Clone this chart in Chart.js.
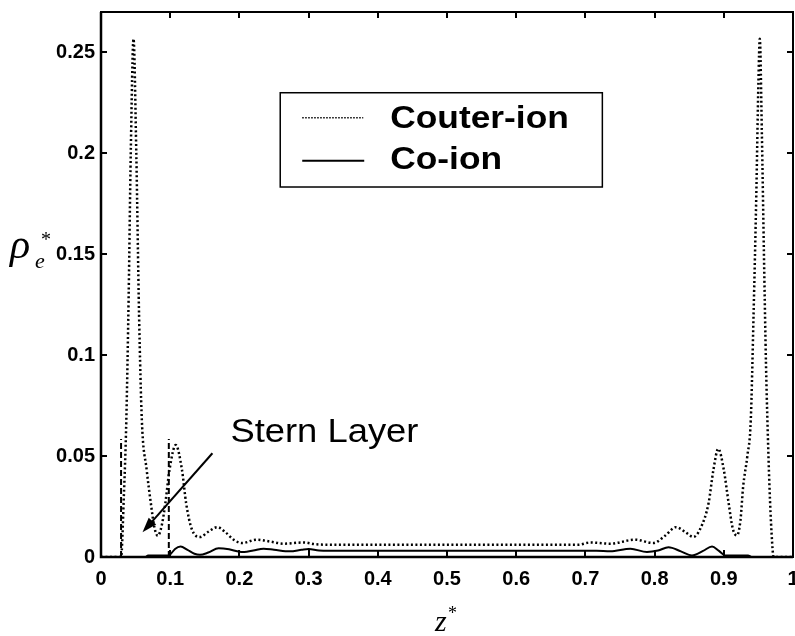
<!DOCTYPE html>
<html lang="en">
<head>
  <meta charset="UTF-8">
  <title>Charge density profile</title>
  <style>
    html, body {
      margin: 0;
      padding: 0;
      background: #fff;
    }
    canvas {
      display: block;
    }
  </style>
</head>
<body>
  <canvas id="densityChart" width="795" height="636"></canvas>

  <script src="https://cdn.jsdelivr.net/npm/chart.js"></script>
  <script>
    // counter-ion profile (dotted)
    const counterZ = [0, 0.029, 0.033, 0.0366, 0.040, 0.043, 0.047, 0.051, 0.055, 0.059,
      0.066, 0.072, 0.077, 0.082, 0.088, 0.093, 0.099, 0.108, 0.117, 0.123,
      0.131, 0.143, 0.155, 0.168, 0.18, 0.192, 0.204, 0.225, 0.245, 0.264,
      0.293, 0.31, 0.33, 0.69, 0.707, 0.736, 0.772, 0.798, 0.815, 0.831,
      0.845, 0.856, 0.866, 0.878, 0.885, 0.892, 0.900, 0.907, 0.913, 0.919,
      0.924, 0.928, 0.934, 0.939, 0.943, 0.947, 0.950, 0.952, 0.955, 0.958,
      0.961, 0.963, 0.966, 0.969, 0.972, 1];
    const counterRho = [0, 0, 0.03, 0.068, 0.13, 0.20, 0.2567, 0.20, 0.12, 0.068,
      0.0432, 0.0267, 0.015, 0.0105, 0.016, 0.0267, 0.0432, 0.0555, 0.0432, 0.0267,
      0.014, 0.0099, 0.0125, 0.0148, 0.0122, 0.0085, 0.0069, 0.0086, 0.0076, 0.0066,
      0.0072, 0.0063, 0.0061, 0.0061, 0.0072, 0.0066, 0.0086, 0.0069, 0.0105, 0.0148,
      0.0122, 0.0099, 0.014, 0.0267, 0.0432, 0.0536, 0.0432, 0.0267, 0.014, 0.0107,
      0.018, 0.035, 0.05, 0.068, 0.12, 0.18, 0.235, 0.2567, 0.21, 0.15,
      0.095, 0.068, 0.035, 0.012, 0, 0];

    // co-ion profile (solid)
    const coZ = [0, 0.064, 0.068, 0.097, 0.1, 0.107, 0.115, 0.125, 0.135, 0.143,
      0.155, 0.17, 0.185, 0.2, 0.207, 0.22, 0.235, 0.25, 0.273, 0.29,
      0.30, 0.315, 0.33, 0.716, 0.736, 0.765, 0.789, 0.805, 0.82, 0.838,
      0.854, 0.87, 0.883, 0.893, 0.902, 0.935, 0.94, 1];
    const coRho = [0, 0, 0.0007, 0.0007, 0.0012, 0.004, 0.0052, 0.0035, 0.0016, 0.0011,
      0.0022, 0.0043, 0.0038, 0.0026, 0.0025, 0.0032, 0.0041, 0.0036, 0.0028, 0.0036,
      0.004, 0.0032, 0.0031, 0.0031, 0.0028, 0.0041, 0.0025, 0.0032, 0.0048, 0.0028,
      0.0008, 0.003, 0.0052, 0.003, 0.0008, 0.0008, 0, 0];

    // Stern layer boundaries (dashed)
    const sternZ = [0.029, 0.098];
    const sternTop = 0.0585;

    const xTicks = [0, 0.1, 0.2, 0.3, 0.4, 0.5, 0.6, 0.7, 0.8, 0.9, 1];
    const yTicks = [0, 0.05, 0.1, 0.15, 0.2, 0.25];

    const legendLabels = ['Couter-ion', 'Co-ion'];
    const sternLabel = 'Stern Layer';

    const fmt = v => String(+Number(v).toFixed(2));
    const toPoints = (xs, ys) => xs.map((v, i) => ({ x: v, y: ys[i] }));

    function stretchText(ctx, text, x, y, sx) {
      ctx.save();
      ctx.translate(x, y);
      ctx.scale(sx, 1);
      ctx.fillText(text, 0, 0);
      ctx.restore();
    }

    const framePlugin = {
      id: 'frame',
      afterDraw(chart) {
        const { ctx, chartArea: a, scales: { x, y } } = chart;
        ctx.save();
        ctx.strokeStyle = '#000';
        ctx.fillStyle = '#000';
        ctx.lineWidth = 2;
        ctx.setLineDash([]);
        ctx.strokeRect(a.left, a.top, a.right - a.left, a.bottom - a.top);
        // left and bottom axes a bit heavier
        ctx.lineWidth = 2.5;
        ctx.beginPath();
        ctx.moveTo(a.left, a.top); ctx.lineTo(a.left, a.bottom); ctx.lineTo(a.right, a.bottom);
        ctx.stroke();

        // inward tick marks on all four sides
        ctx.lineWidth = 2;
        ctx.beginPath();
        xTicks.forEach(v => {
          const px = Math.round(x.getPixelForValue(v));
          ctx.moveTo(px, a.bottom); ctx.lineTo(px, a.bottom - 7);
          ctx.moveTo(px, a.top); ctx.lineTo(px, a.top + 6);
        });
        yTicks.forEach(v => {
          const py = Math.round(y.getPixelForValue(v));
          ctx.moveTo(a.left, py); ctx.lineTo(a.left + 6, py);
          ctx.moveTo(a.right, py); ctx.lineTo(a.right - 6, py);
        });
        ctx.stroke();

        // legend box
        const lx = x.getPixelForValue(0.259), rx = x.getPixelForValue(0.7245);
        const ty = y.getPixelForValue(0.230), by = y.getPixelForValue(0.1833);
        ctx.lineWidth = 1.5;
        ctx.strokeRect(lx, ty, rx - lx, by - ty);
        ctx.lineWidth = 1.5;
        ctx.setLineDash([1.5, 1.5]);
        ctx.beginPath();
        ctx.moveTo(lx + 22, ty + 25); ctx.lineTo(lx + 83, ty + 25);
        ctx.stroke();
        ctx.setLineDash([]);
        ctx.lineWidth = 2;
        ctx.beginPath();
        ctx.moveTo(lx + 22, ty + 68); ctx.lineTo(lx + 84, ty + 68);
        ctx.stroke();
        ctx.font = 'bold 31px "Liberation Sans", Arial, sans-serif';
        ctx.textBaseline = 'alphabetic';
        ctx.textAlign = 'left';
        stretchText(ctx, legendLabels[0], lx + 110, ty + 35, 1.14);
        stretchText(ctx, legendLabels[1], lx + 110, ty + 76, 1.14);

        // Stern layer annotation
        ctx.font = '34px "Liberation Sans", Arial, sans-serif';
        stretchText(ctx, sternLabel, x.getPixelForValue(0.187), y.getPixelForValue(0.0571), 1.07);
        const x1 = x.getPixelForValue(0.161), y1 = y.getPixelForValue(0.0514);
        const x2 = x.getPixelForValue(0.060), y2 = y.getPixelForValue(0.0122);
        const ang = Math.atan2(y2 - y1, x2 - x1);
        ctx.lineWidth = 2;
        ctx.beginPath();
        ctx.moveTo(x1, y1);
        ctx.lineTo(x2 - 10 * Math.cos(ang), y2 - 10 * Math.sin(ang));
        ctx.stroke();
        ctx.beginPath();
        ctx.moveTo(x2, y2);
        ctx.lineTo(x2 - 15 * Math.cos(ang) + 5 * Math.sin(ang), y2 - 15 * Math.sin(ang) - 5 * Math.cos(ang));
        ctx.lineTo(x2 - 15 * Math.cos(ang) - 5 * Math.sin(ang), y2 - 15 * Math.sin(ang) + 5 * Math.cos(ang));
        ctx.closePath();
        ctx.fill();

        // axis titles
        ctx.font = 'italic 30px "Liberation Serif", "Times New Roman", serif';
        ctx.fillText('z', 435, 631);
        ctx.font = '18px "Liberation Serif", "Times New Roman", serif';
        ctx.fillText('*', 448, 619);
        ctx.font = 'italic 42px "Liberation Serif", "Times New Roman", serif';
        ctx.fillText('\u03C1', 10, 258);
        ctx.font = 'italic 22px "Liberation Serif", "Times New Roman", serif';
        ctx.fillText('e', 35, 268);
        ctx.font = '20px "Liberation Serif", "Times New Roman", serif';
        ctx.fillText('*', 41, 246);
        ctx.restore();
      }
    };

    const tickFont = { family: '"Liberation Sans", Arial, sans-serif', size: 20, weight: 'bold' };

    const datasets = [
      {
        label: legendLabels[0],
        data: toPoints(counterZ, counterRho),
        borderColor: '#000',
        borderWidth: 2.5,
        borderDash: [2, 2.5],
        cubicInterpolationMode: 'monotone'
      },
      {
        label: legendLabels[1],
        data: toPoints(coZ, coRho),
        borderColor: '#000',
        borderWidth: 2,
        cubicInterpolationMode: 'monotone'
      }
    ];
    sternZ.forEach(z => {
      datasets.push({
        label: sternLabel,
        data: [{ x: z, y: 0 }, { x: z, y: sternTop }],
        borderColor: '#000',
        borderWidth: 2,
        borderDash: [6, 3]
      });
    });

    new Chart(document.getElementById('densityChart'), {
      type: 'line',
      data: { datasets: datasets },
      options: {
        responsive: false,
        animation: false,
        devicePixelRatio: 1,
        layout: { padding: { left: 0, right: 2, top: 12, bottom: 0 } },
        elements: { point: { radius: 0 } },
        plugins: {
          legend: { display: false },
          tooltip: { enabled: false }
        },
        scales: {
          x: {
            type: 'linear',
            min: 0,
            max: 1,
            afterBuildTicks: s => { s.ticks = xTicks.map(v => ({ value: v })); },
            afterFit: s => { s.height = 79; s.paddingLeft = 0; s.paddingRight = 0; },
            grid: { display: false, drawTicks: false },
            border: { display: false },
            ticks: { padding: 10, color: '#000', font: tickFont, maxRotation: 0, autoSkip: false, callback: fmt }
          },
          y: {
            type: 'linear',
            min: 0,
            max: 0.27,
            afterBuildTicks: s => { s.ticks = yTicks.map(v => ({ value: v })); },
            afterFit: s => { s.width = 101; s.paddingTop = 0; s.paddingBottom = 0; },
            grid: { display: false, drawTicks: false },
            border: { display: false },
            ticks: { padding: 6, color: '#000', font: tickFont, autoSkip: false, callback: fmt }
          }
        }
      },
      plugins: [framePlugin]
    });
  </script>
</body>
</html>
